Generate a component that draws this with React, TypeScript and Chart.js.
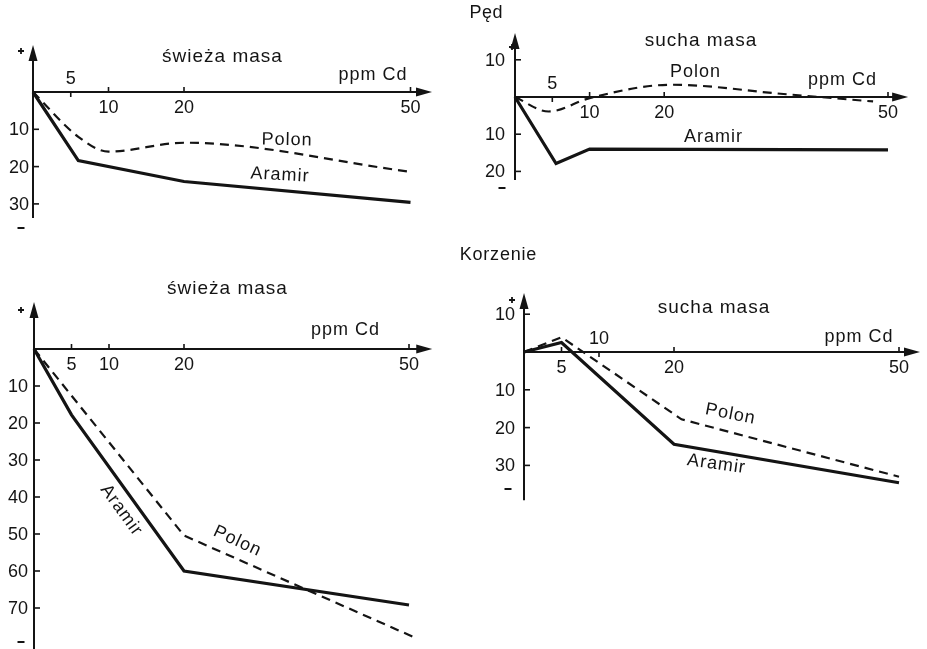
import React, { useEffect, useRef } from "react";
import { Chart, registerables } from "chart.js";

Chart.register(...registerables);

// ---------------- data ----------------
// x: ppm Cd, y: change in % (negative = decrease)
const doseTicks = [5, 10, 20, 50];

// Pęd – świeża masa
const pedFreshAramirDose = [0, 6, 20, 50];
const pedFreshAramirChange = [0, -18.4, -24, -29.6];
const pedFreshPolonDose = [0, 6, 10, 20, 50];
const pedFreshPolonChange = [0, -12, -16, -13.6, -21.4];
const pedFreshYTicks = [-10, -20, -30];

// Pęd – sucha masa
const pedDryAramirDose = [0, 5.5, 10, 50];
const pedDryAramirChange = [0, -17.9, -14, -14.2];
const pedDryPolonDose = [0, 4.5, 10, 21, 36, 48];
const pedDryPolonChange = [0, -3.9, -0.3, 3.3, 0.8, -1.2];
const pedDryYTicks = [10, -10, -20];

// Korzenie – świeża masa
const rootFreshAramirDose = [0, 5, 20, 50];
const rootFreshAramirChange = [0, -17.8, -60, -69.2];
const rootFreshPolonDose = [0, 20, 51];
const rootFreshPolonChange = [0, -50.4, -78.2];
const rootFreshYTicks = [-10, -20, -30, -40, -50, -60, -70];

// Korzenie – sucha masa
const rootDryAramirDose = [0, 5, 20, 50];
const rootDryAramirChange = [0, 2.5, -24.4, -34.6];
const rootDryPolonDose = [0, 5, 21, 50];
const rootDryPolonChange = [0, 3.9, -17.8, -33];
const rootDryYTicks = [10, -10, -20, -30];

// ---------------- style / layout ----------------
const INK = "#141414";
const FONT = '"Liberation Sans", Arial, sans-serif';

type Series = { name: string; dose: number[]; change: number[]; dashed: boolean; smooth: boolean };
type Txt = { t: string; x: number; y: number; size: number; sp: number; rot?: number };
type PanelCfg = {
  box: [number, number, number, number];
  origin: [number, number];
  kx: number;
  ky: number;
  xArrow: number;
  yArrow: number;
  yBottom: number;
  xTickAbove: number[];
  yTicks: number[];
  yGap: number;
  plus: [number, number];
  minus: [number, number];
  texts: Txt[];
  series: Series[];
};

const panels: PanelCfg[] = [
  {
    box: [0, 0, 465, 240],
    origin: [33, 92],
    kx: 7.55,
    ky: 3.73,
    xArrow: 52.85,
    yArrow: 12.6,
    yBottom: -33.8,
    xTickAbove: [5],
    yTicks: pedFreshYTicks,
    yGap: 4,
    plus: [21, 51],
    minus: [21, 228],
    texts: [
      { t: "świeża masa", x: 222, y: 57, size: 19, sp: 1 },
      { t: "ppm Cd", x: 372.5, y: 75, size: 18, sp: 1 },
      { t: "Polon", x: 286.5, y: 140, size: 18, sp: 1, rot: 1 },
      { t: "Aramir", x: 279.5, y: 175, size: 18, sp: 1, rot: 3 },
    ],
    series: [
      { name: "Aramir", dose: pedFreshAramirDose, change: pedFreshAramirChange, dashed: false, smooth: false },
      { name: "Polon", dose: pedFreshPolonDose, change: pedFreshPolonChange, dashed: true, smooth: true },
    ],
  },
  {
    box: [440, 0, 487, 240],
    origin: [515, 97],
    kx: 7.46,
    ky: 3.72,
    xArrow: 52.7,
    yArrow: 17.2,
    yBottom: -22.3,
    xTickAbove: [5],
    yTicks: pedDryYTicks,
    yGap: 10,
    plus: [512, 47],
    minus: [502, 188],
    texts: [
      { t: "Pęd", x: 486, y: 13, size: 18, sp: 0.5 },
      { t: "sucha masa", x: 700.5, y: 41, size: 19, sp: 1 },
      { t: "Polon", x: 695, y: 72, size: 18, sp: 1 },
      { t: "ppm Cd", x: 842, y: 80, size: 18, sp: 1 },
      { t: "Aramir", x: 713, y: 137, size: 18, sp: 1 },
    ],
    series: [
      { name: "Aramir", dose: pedDryAramirDose, change: pedDryAramirChange, dashed: false, smooth: false },
      { name: "Polon", dose: pedDryPolonDose, change: pedDryPolonChange, dashed: true, smooth: true },
    ],
  },
  {
    box: [0, 240, 465, 409],
    origin: [34, 349],
    kx: 7.5,
    ky: 3.7,
    xArrow: 53.1,
    yArrow: 12.7,
    yBottom: -82,
    xTickAbove: [],
    yTicks: rootFreshYTicks,
    yGap: 6,
    plus: [21, 310],
    minus: [21, 642],
    texts: [
      { t: "świeża masa", x: 227, y: 289, size: 19, sp: 1 },
      { t: "ppm Cd", x: 345, y: 330, size: 18, sp: 1 },
      { t: "Aramir", x: 121, y: 510, size: 18, sp: 1, rot: 54 },
      { t: "Polon", x: 237, y: 541, size: 18, sp: 1, rot: 25 },
    ],
    series: [
      { name: "Aramir", dose: rootFreshAramirDose, change: rootFreshAramirChange, dashed: false, smooth: false },
      { name: "Polon", dose: rootFreshPolonDose, change: rootFreshPolonChange, dashed: true, smooth: false },
    ],
  },
  {
    box: [440, 240, 487, 270],
    origin: [524, 352],
    kx: 7.5,
    ky: 3.78,
    xArrow: 52.8,
    yArrow: 15.6,
    yBottom: -39.2,
    xTickAbove: [10],
    yTicks: rootDryYTicks,
    yGap: 9,
    plus: [512, 300],
    minus: [508, 489],
    texts: [
      { t: "Korzenie", x: 498, y: 255, size: 18, sp: 0.8 },
      { t: "sucha masa", x: 713.5, y: 308, size: 19, sp: 1 },
      { t: "ppm Cd", x: 858.5, y: 337, size: 18, sp: 1 },
      { t: "Polon", x: 730, y: 414, size: 18, sp: 1, rot: 11 },
      { t: "Aramir", x: 716, y: 464, size: 18, sp: 1, rot: 8 },
    ],
    series: [
      { name: "Aramir", dose: rootDryAramirDose, change: rootDryAramirChange, dashed: false, smooth: false },
      { name: "Polon", dose: rootDryPolonDose, change: rootDryPolonChange, dashed: true, smooth: false },
    ],
  },
];

function makeSketchPlugin(cfg: PanelCfg) {
  const [bl, bt] = cfg.box;
  return {
    id: "sketchAxes",
    beforeDatasetsDraw(chart: any) {
      const ctx: CanvasRenderingContext2D = chart.ctx;
      const xs = chart.scales.x;
      const ys = chart.scales.y;
      const X = (v: number) => xs.getPixelForValue(v);
      const Y = (v: number) => ys.getPixelForValue(v);
      const x0 = X(0);
      const y0 = Y(0);
      ctx.save();
      ctx.strokeStyle = INK;
      ctx.fillStyle = INK;
      ctx.lineWidth = 2;
      ctx.lineCap = "butt";

      // x axis with arrow
      const xt = X(cfg.xArrow);
      ctx.beginPath();
      ctx.moveTo(x0, y0);
      ctx.lineTo(xt - 6, y0);
      ctx.stroke();
      ctx.beginPath();
      ctx.moveTo(xt, y0);
      ctx.lineTo(xt - 16, y0 - 4.5);
      ctx.lineTo(xt - 16, y0 + 4.5);
      ctx.closePath();
      ctx.fill();

      // y axis with arrow
      const yt = Y(cfg.yArrow);
      ctx.beginPath();
      ctx.moveTo(x0, Y(cfg.yBottom));
      ctx.lineTo(x0, yt + 6);
      ctx.stroke();
      ctx.beginPath();
      ctx.moveTo(x0, yt);
      ctx.lineTo(x0 - 4.5, yt + 16);
      ctx.lineTo(x0 + 4.5, yt + 16);
      ctx.closePath();
      ctx.fill();

      // x ticks and labels
      ctx.font = `18px ${FONT}`;
      ctx.textAlign = "center";
      ctx.textBaseline = "middle";
      ctx.lineWidth = 1.6;
      for (const v of doseTicks) {
        const px = X(v);
        const above = cfg.xTickAbove.includes(v);
        ctx.beginPath();
        ctx.moveTo(px, y0);
        ctx.lineTo(px, above ? y0 + 5 : y0 - 5);
        ctx.stroke();
        ctx.fillText(String(v), px, above ? y0 - 13 : y0 + 16);
      }

      // y ticks and labels
      ctx.textAlign = "right";
      for (const v of cfg.yTicks) {
        const py = Y(v);
        ctx.beginPath();
        ctx.moveTo(x0, py);
        ctx.lineTo(x0 + 6, py);
        ctx.stroke();
        ctx.fillText(String(Math.abs(v)), x0 - cfg.yGap, py + 1);
      }

      // + / - signs
      const [pxp, pyp] = [cfg.plus[0] - bl, cfg.plus[1] - bt];
      ctx.lineWidth = 1.8;
      ctx.beginPath();
      ctx.moveTo(pxp - 3, pyp);
      ctx.lineTo(pxp + 3, pyp);
      ctx.moveTo(pxp, pyp - 3);
      ctx.lineTo(pxp, pyp + 3);
      ctx.stroke();
      const [mx, my] = [cfg.minus[0] - bl, cfg.minus[1] - bt];
      ctx.lineWidth = 2;
      ctx.beginPath();
      ctx.moveTo(mx - 3.5, my);
      ctx.lineTo(mx + 3.5, my);
      ctx.stroke();

      // annotations
      for (const tx of cfg.texts) {
        ctx.save();
        ctx.translate(tx.x - bl, tx.y - bt);
        if (tx.rot) ctx.rotate((tx.rot * Math.PI) / 180);
        ctx.font = `${tx.size}px ${FONT}`;
        (ctx as any).letterSpacing = `${tx.sp}px`;
        ctx.textAlign = "center";
        ctx.textBaseline = "middle";
        ctx.fillText(tx.t, tx.sp / 2, 0);
        ctx.restore();
      }
      ctx.restore();
    },
  };
}

function SketchPanel({ cfg }: { cfg: PanelCfg }) {
  const ref = useRef<HTMLCanvasElement>(null);
  useEffect(() => {
    if (!ref.current) return;
    const [l, t, w, h] = cfg.box;
    const [ox, oy] = cfg.origin;
    const xMin = -(ox - l) / cfg.kx;
    const xMax = (l + w - ox) / cfg.kx;
    const yMax = (oy - t) / cfg.ky;
    const yMin = -(t + h - oy) / cfg.ky;
    const chart = new Chart(ref.current, {
      type: "line",
      data: {
        datasets: cfg.series.map((s) => ({
          label: s.name,
          data: s.dose.map((d, i) => ({ x: d, y: s.change[i] })),
          borderColor: INK,
          backgroundColor: INK,
          borderWidth: s.dashed ? 2.2 : 3.2,
          borderDash: s.dashed ? [9, 6] : [],
          pointRadius: 0,
          fill: false,
          tension: s.smooth ? 0.4 : 0,
          cubicInterpolationMode: s.smooth ? "monotone" : "default",
        })),
      },
      options: {
        responsive: false,
        animation: false,
        events: [],
        layout: { padding: 0, autoPadding: false },
        plugins: { legend: { display: false }, tooltip: { enabled: false }, title: { display: false } },
        scales: {
          x: { type: "linear", min: xMin, max: xMax, display: false },
          y: { type: "linear", min: yMin, max: yMax, display: false },
        },
      } as any,
      plugins: [makeSketchPlugin(cfg)],
    });
    return () => chart.destroy();
  }, [cfg]);
  const [l, t, w, h] = cfg.box;
  return (
    <canvas
      ref={ref}
      width={w}
      height={h}
      style={{ position: "absolute", left: l, top: t, width: w, height: h }}
    />
  );
}

export default function App() {
  return (
    <div style={{ position: "absolute", left: 0, top: 0, width: 927, height: 649, background: "#fff", overflow: "hidden" }}>
      {panels.map((p, i) => (
        <SketchPanel key={i} cfg={p} />
      ))}
    </div>
  );
}
